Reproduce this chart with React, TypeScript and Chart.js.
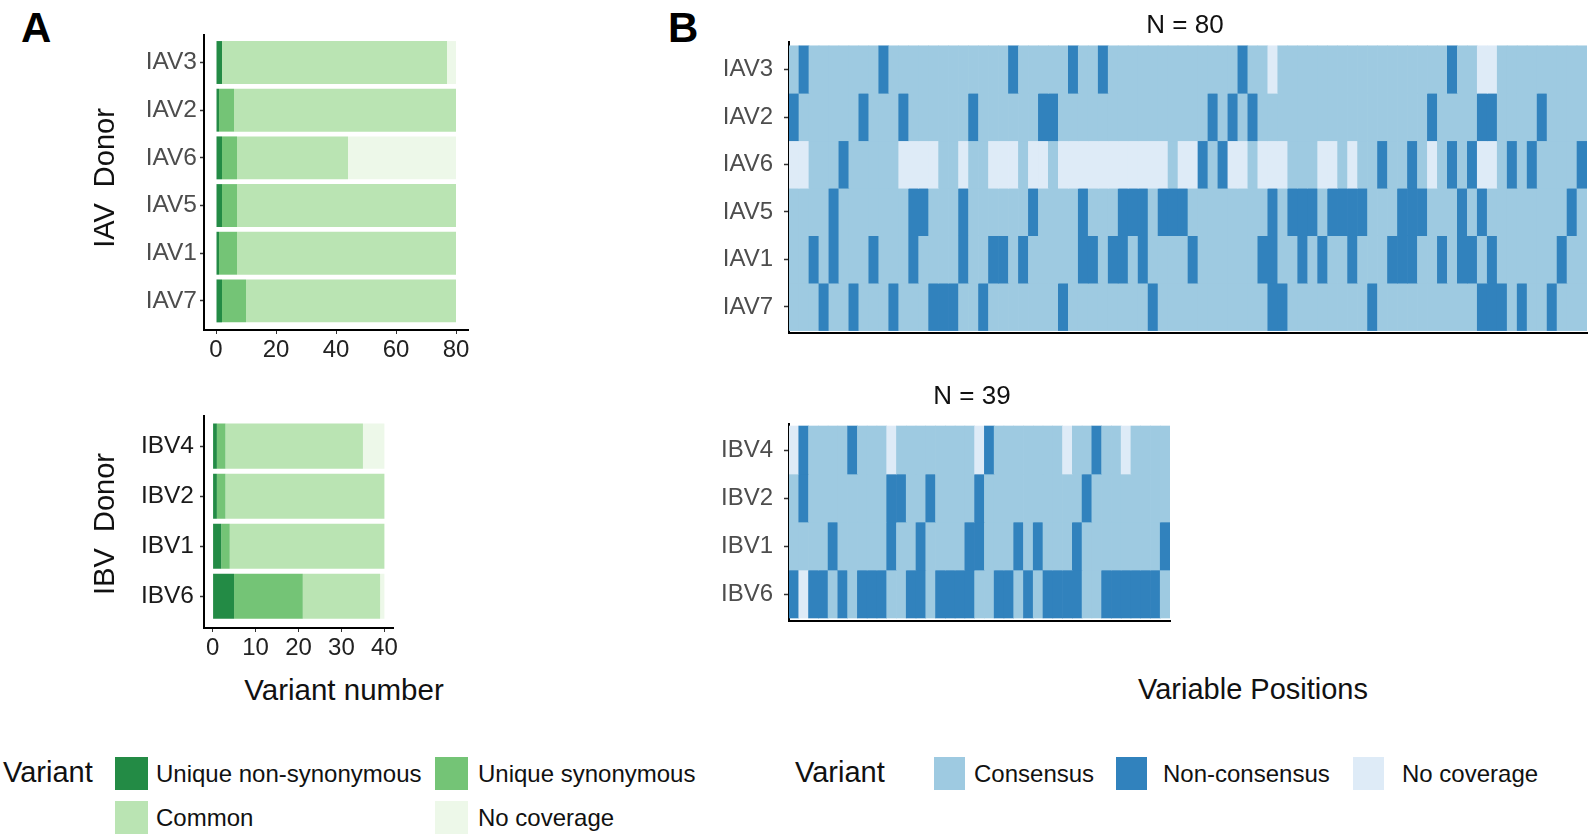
import React, { useEffect, useRef } from 'react';
import { Chart, registerables } from 'chart.js';

Chart.register(...registerables);

const FONT = "'Liberation Sans', Arial, Helvetica, sans-serif";

// ---------- Panel A: variant counts per donor ----------
const IAV_DONORS = ['IAV3', 'IAV2', 'IAV6', 'IAV5', 'IAV1', 'IAV7'];
const IAV_NONSYN = [2, 1, 2, 2, 1, 2];
const IAV_SYN = [0, 5, 5, 5, 6, 8];
const IAV_COMMON = [75, 74, 37, 73, 73, 70];
const IAV_NOCOV = [3, 0, 36, 0, 0, 0];
const IAV_TICKS = [0, 20, 40, 60, 80];

const IBV_DONORS = ['IBV4', 'IBV2', 'IBV1', 'IBV6'];
const IBV_NONSYN = [1, 1, 2, 5];
const IBV_SYN = [2, 2, 2, 16];
const IBV_COMMON = [32, 37, 36, 18];
const IBV_NOCOV = [5, 0, 0, 1];
const IBV_TICKS = [0, 10, 20, 30, 40];

const VARIANT_LABELS = ['Unique non-synonymous', 'Unique synonymous', 'Common', 'No coverage'];
const GREENS = ['#238b45', '#74c476', '#bae4b3', '#edf8e9'];

// ---------- Panel B: state per variable position ----------
// 0 = Consensus, 1 = Non-consensus, 2 = No coverage
const IAV3_STATES = '0100000001' + '0000000000' + '0010000010' + '0100000000' + '0000010020' + '0000000000' + '0000001002' + '2000000000';
const IAV2_STATES = '1000000100' + '0100000010' + '0000011000' + '0000000000' + '0010101000' + '0000000000' + '0000100001' + '1000010000';
const IAV6_STATES = '2200010000' + '0222200200' + '2220220222' + '2222222202' + '2101220222' + '0002202001' + '0010201012' + '2010100001';
const IAV5_STATES = '0000100000' + '0011000100' + '0000100001' + '0001110111' + '0000000010' + '1110111100' + '0111000101' + '0000000010';
const IAV1_STATES = '0010100010' + '0010000100' + '1101000001' + '1011010000' + '1000000110' + '0101001000' + '1110010110' + '1000000100';
const IAV7_STATES = '0001001000' + '1000111001' + '0000000100' + '0000001000' + '0000000011' + '0000000010' + '0000000001' + '1101001000';

const IBV4_STATES = '2100001000' + '2000000002' + '1000000020' + '010020000';
const IBV2_STATES = '0100000000' + '1100100001' + '0000000000' + '100000000';
const IBV1_STATES = '0000100000' + '1001000011' + '0001010001' + '000000001';
const IBV6_STATES = '1211010111' + '0011011110' + '0110101111' + '001111110';

const HEAT_IAV_ROWS = ['IAV3', 'IAV2', 'IAV6', 'IAV5', 'IAV1', 'IAV7'];
const HEAT_IAV_STATES = [IAV3_STATES, IAV2_STATES, IAV6_STATES, IAV5_STATES, IAV1_STATES, IAV7_STATES];
const HEAT_IBV_ROWS = ['IBV4', 'IBV2', 'IBV1', 'IBV6'];
const HEAT_IBV_STATES = [IBV4_STATES, IBV2_STATES, IBV1_STATES, IBV6_STATES];

const STATE_LABELS = ['Consensus', 'Non-consensus', 'No coverage'];
const BLUES = ['#9ecae1', '#3182bd', '#deebf7'];

// ---------- chart configs ----------
function barConfig(
  donors: string[],
  series: number[][],
  ticks: number[],
  xMin: number,
  xMax: number,
  yMin: number,
  yMax: number,
  labelColor: string,
  labelPad: number
): any {
  return {
    type: 'bar',
    data: {
      datasets: series.map((vals, s) => ({
        label: VARIANT_LABELS[s],
        data: vals.map((v, i) => ({ x: v, y: i })),
        backgroundColor: GREENS[s],
        borderWidth: 0,
        barPercentage: 0.9,
        categoryPercentage: 1,
      })),
    },
    options: {
      indexAxis: 'y',
      animation: false,
      responsive: false,
      maintainAspectRatio: false,
      layout: { padding: { top: 20, right: 12, bottom: 0, left: 0 } },
      plugins: { legend: { display: false }, tooltip: { enabled: false } },
      scales: {
        x: {
          type: 'linear',
          stacked: true,
          min: xMin,
          max: xMax,
          bounds: 'data',
          offset: false,
          afterBuildTicks: (s: any) => {
            s.ticks = ticks.map((v) => ({ value: v }));
          },
          afterFit: (s: any) => {
            s.height = 40;
          },
          grid: { display: true, drawOnChartArea: false, drawTicks: true, tickLength: 4, tickColor: '#333', tickWidth: 1 },
          border: { display: true, color: '#000', width: 2 },
          ticks: { color: '#222', padding: 2, autoSkip: false, maxRotation: 0, font: { family: FONT, size: 24 } },
        },
        y: {
          type: 'linear',
          stacked: true,
          reverse: true,
          min: yMin,
          max: yMax,
          bounds: 'data',
          offset: false,
          afterBuildTicks: (s: any) => {
            s.ticks = donors.map((_, i) => ({ value: i }));
          },
          afterFit: (s: any) => {
            s.width = 104;
          },
          grid: {
            display: true,
            offset: false,
            drawOnChartArea: false,
            drawTicks: true,
            tickLength: 4,
            tickColor: '#333',
            tickWidth: 1.5,
          },
          border: { display: true, color: '#000', width: 2 },
          ticks: {
            color: labelColor,
            padding: labelPad,
            autoSkip: false,
            font: { family: FONT, size: 24.5 },
            callback: (v: number) => donors[Math.round(v)] ?? '',
          },
        },
      },
    },
  };
}

function heatConfig(rowNames: string[], rowStates: string[], yMin: number, yMax: number): any {
  const positions = rowStates[0].split('').map((_, i) => String(i + 1));
  return {
    type: 'bar',
    data: {
      labels: positions,
      datasets: rowNames.map((name, r) => ({
        label: name,
        data: rowStates[r].split('').map(() => 1),
        backgroundColor: rowStates[r].split('').map((c) => BLUES[Number(c)]),
        borderWidth: 0,
        barPercentage: 1,
        categoryPercentage: 1,
      })),
    },
    options: {
      animation: false,
      responsive: false,
      maintainAspectRatio: false,
      layout: { padding: { top: 30, right: 8, bottom: 30, left: 0 } },
      plugins: { legend: { display: false }, tooltip: { enabled: false } },
      scales: {
        x: {
          type: 'category',
          stacked: true,
          offset: true,
          z: 1,
          afterFit: (s: any) => {
            s.height = 0;
          },
          grid: { display: false },
          border: { display: true, color: '#000', width: 2 },
          ticks: { display: false },
        },
        y: {
          type: 'linear',
          stacked: true,
          reverse: true,
          min: yMin,
          max: yMax,
          bounds: 'data',
          offset: false,
          z: 1,
          afterBuildTicks: (s: any) => {
            s.ticks = rowNames.map((_, i) => ({ value: i + 0.5 }));
          },
          afterFit: (s: any) => {
            s.width = 99;
          },
          grid: { display: true, drawOnChartArea: false, drawTicks: true, tickLength: 5, tickColor: '#333', tickWidth: 1.5 },
          border: { display: true, color: '#000', width: 2 },
          ticks: {
            color: '#4d4d4d',
            padding: 11,
            autoSkip: false,
            font: { family: FONT, size: 24 },
            callback: (v: number) => rowNames[Math.floor(v)] ?? '',
          },
        },
      },
    },
  };
}

// ---------- components ----------
function ChartCanvas(props: { config: any; left: number; top: number; width: number; height: number }) {
  const ref = useRef<HTMLCanvasElement | null>(null);
  useEffect(() => {
    if (!ref.current) return;
    const chart = new Chart(ref.current, props.config);
    return () => chart.destroy();
  }, []);
  return (
    <canvas
      ref={ref}
      width={props.width}
      height={props.height}
      style={{ position: 'absolute', left: props.left, top: props.top, width: props.width, height: props.height }}
    />
  );
}

function Txt(props: {
  text: string;
  x: number;
  baseline: number;
  size: number;
  center?: boolean;
  bold?: boolean;
  color?: string;
}) {
  const top = props.baseline - 0.8465 * props.size;
  return (
    <div
      style={{
        position: 'absolute',
        left: props.x,
        top,
        fontSize: props.size,
        lineHeight: `${props.size}px`,
        fontFamily: FONT,
        fontWeight: props.bold ? 700 : 400,
        color: props.color ?? '#111',
        whiteSpace: 'pre',
        transform: props.center ? 'translateX(-50%)' : undefined,
      }}
    >
      {props.text}
    </div>
  );
}

function RotTxt(props: { text: string; cx: number; cy: number; size: number }) {
  return (
    <div
      style={{
        position: 'absolute',
        left: props.cx,
        top: props.cy,
        fontSize: props.size,
        lineHeight: `${props.size}px`,
        fontFamily: FONT,
        color: '#111',
        whiteSpace: 'pre',
        transform: 'translate(-50%, -50%) rotate(-90deg)',
      }}
    >
      {props.text}
    </div>
  );
}

function Swatch(props: { x: number; y: number; w: number; h: number; color: string }) {
  return (
    <div
      style={{ position: 'absolute', left: props.x, top: props.y, width: props.w, height: props.h, background: props.color }}
    />
  );
}

export default function App() {
  const iavCfg = barConfig(
    IAV_DONORS,
    [IAV_NONSYN, IAV_SYN, IAV_COMMON, IAV_NOCOV],
    IAV_TICKS,
    -4,
    84,
    -0.577,
    5.61,
    '#4d4d4d',
    3
  );
  const ibvCfg = barConfig(
    IBV_DONORS,
    [IBV_NONSYN, IBV_SYN, IBV_COMMON, IBV_NOCOV],
    IBV_TICKS,
    -2,
    42,
    -0.608,
    3.635,
    '#1a1a1a',
    6
  );
  const heatIav = heatConfig(HEAT_IAV_ROWS, HEAT_IAV_STATES, -0.08, 6.05);
  const heatIbv = heatConfig(HEAT_IBV_ROWS, HEAT_IBV_STATES, -0.042, 4.0625);

  return (
    <div
      style={{
        position: 'absolute',
        left: 0,
        top: 0,
        width: 1595,
        height: 837,
        background: '#fff',
        overflow: 'hidden',
        fontFamily: FONT,
      }}
    >
      <Txt text="A" x={21} baseline={42.7} size={42} bold color="#000" />
      <Txt text="B" x={668} baseline={42.7} size={42} bold color="#000" />

      <ChartCanvas config={iavCfg} left={100} top={15} width={380} height={355} />
      <ChartCanvas config={ibvCfg} left={100} top={395} width={305} height={273} />
      <ChartCanvas config={heatIav} left={690} top={12} width={905} height={351} />
      <ChartCanvas config={heatIbv} left={690} top={394} width={488} height={257} />

      <RotTxt text="IAV  Donor" cx={104} cy={178} size={29} />
      <RotTxt text="IBV  Donor" cx={104} cy={524} size={29} />

      <Txt text="N = 80" x={1185} baseline={33.3} size={26} center />
      <Txt text="N = 39" x={972} baseline={404} size={26} center />

      <Txt text="Variant number" x={344} baseline={700} size={29.5} center />
      <Txt text="Variable Positions" x={1253} baseline={700} size={29} center />

      {/* Left legend */}
      <Txt text="Variant" x={3} baseline={783} size={29} />
      <Swatch x={115} y={757} w={33} h={33} color={GREENS[0]} />
      <Txt text={VARIANT_LABELS[0]} x={156} baseline={782} size={24} />
      <Swatch x={435} y={757} w={33} h={33} color={GREENS[1]} />
      <Txt text={VARIANT_LABELS[1]} x={478} baseline={782} size={24} />
      <Swatch x={115} y={801} w={33} h={33} color={GREENS[2]} />
      <Txt text={VARIANT_LABELS[2]} x={156} baseline={826} size={24} />
      <Swatch x={435} y={801} w={33} h={33} color={GREENS[3]} />
      <Txt text={VARIANT_LABELS[3]} x={478} baseline={826} size={24} />

      {/* Right legend */}
      <Txt text="Variant" x={795} baseline={783} size={29} />
      <Swatch x={934} y={757} w={31} h={33} color={BLUES[0]} />
      <Txt text={STATE_LABELS[0]} x={974} baseline={782} size={24} />
      <Swatch x={1116} y={757} w={31} h={33} color={BLUES[1]} />
      <Txt text={STATE_LABELS[1]} x={1163} baseline={782} size={24} />
      <Swatch x={1353} y={757} w={31} h={33} color={BLUES[2]} />
      <Txt text={STATE_LABELS[2]} x={1402} baseline={782} size={24} />
    </div>
  );
}
